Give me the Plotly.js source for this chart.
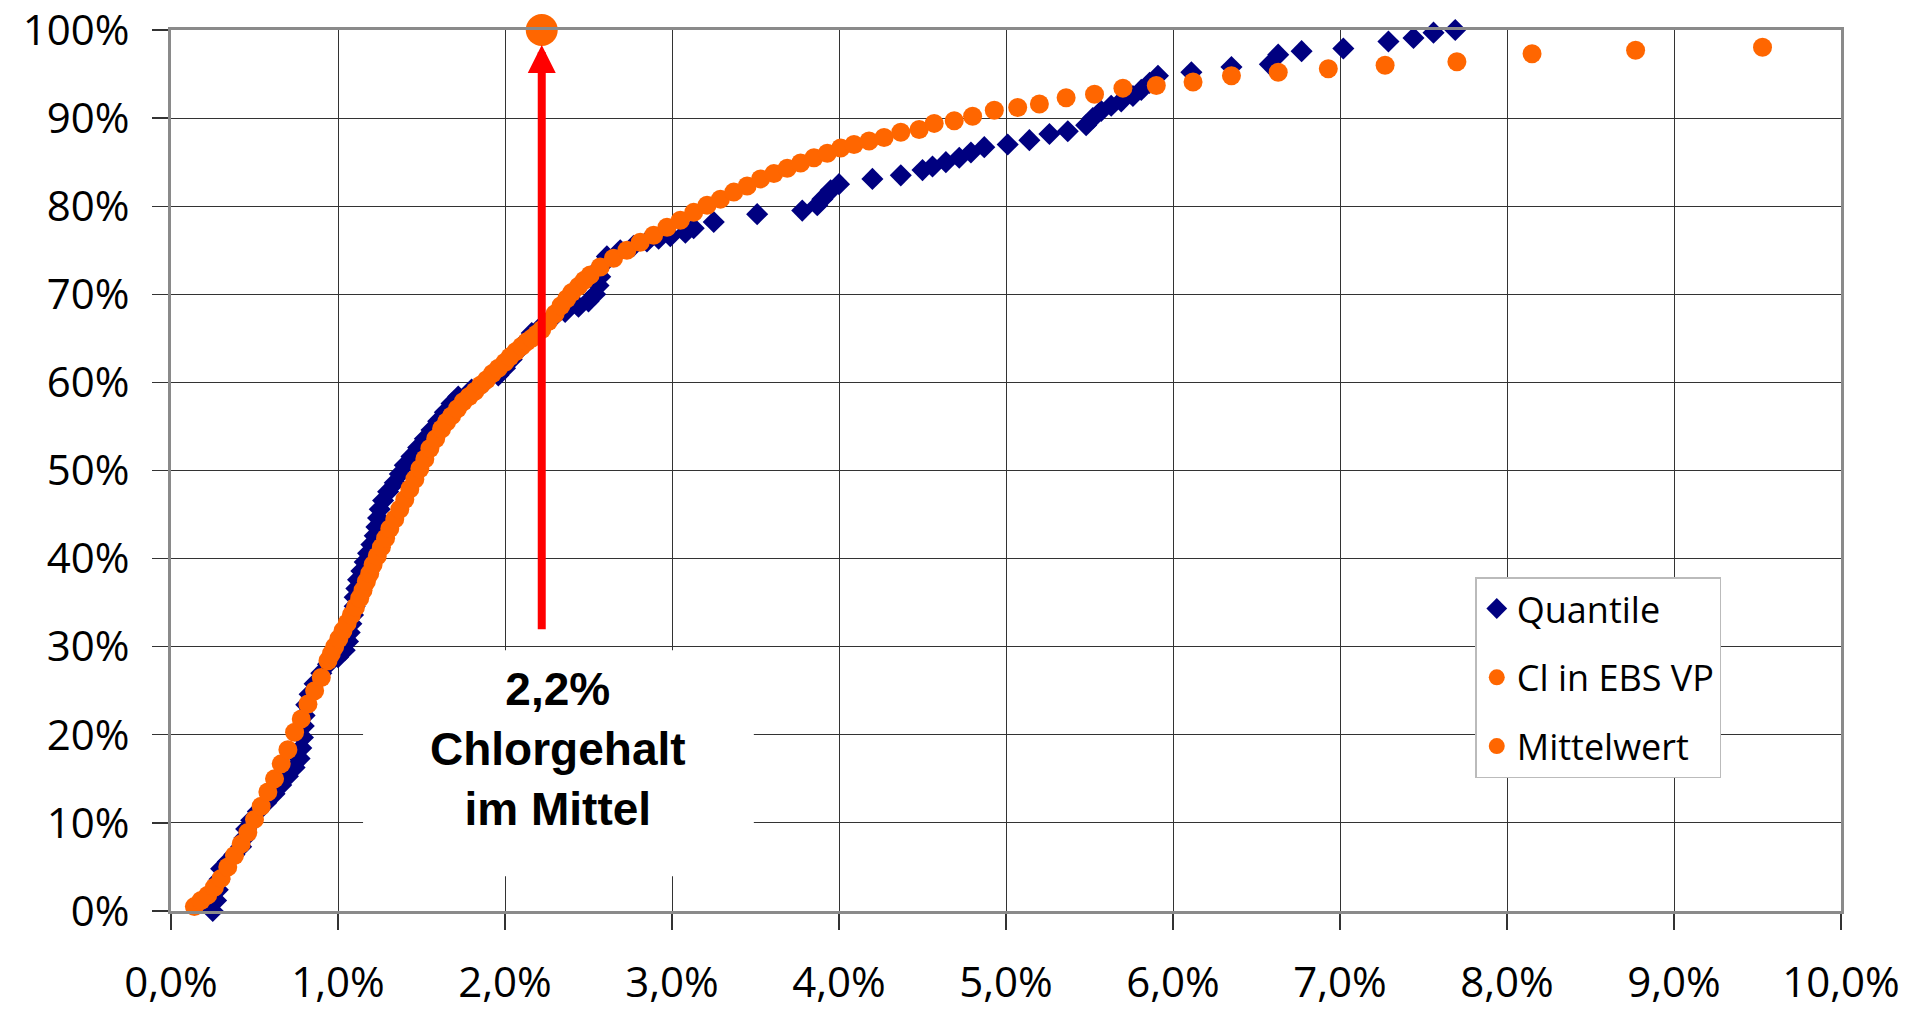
<!DOCTYPE html>
<html>
<head>
<meta charset="utf-8">
<script src="https://cdn.plot.ly/plotly-3.0.1.min.js"></script>
<style>html,body{margin:0;padding:0;background:#fff;}#chart{width:1909px;height:1016px;}</style>
</head>
<body>
<div id="chart"></div>
<script>
// ---- data (x = Chlorgehalt in %, y = cumulative share in %) ----
const quantileX = [0.25,0.27,0.28,0.29,0.30,0.34,0.38,0.42,0.44,0.45,0.48,0.52,0.57,0.62,0.66,0.70,0.74,0.77,0.78,0.79,0.795,0.80,0.81,0.83,0.86,0.90,0.94,1.00,1.04,1.06,1.07,1.08,1.09,1.10,1.10,1.11,1.12,1.14,1.16,1.18,1.20,1.22,1.23,1.24,1.25,1.27,1.30,1.34,1.37,1.40,1.44,1.48,1.52,1.56,1.60,1.64,1.68,1.72,1.80,1.88,1.96,2.00,2.04,2.08,2.12,2.16,2.22,2.28,2.36,2.44,2.50,2.54,2.56,2.57,2.57,2.61,2.69,2.77,2.85,2.92,2.99,3.08,3.13,3.25,3.51,3.78,3.87,3.90,3.95,4.00,4.20,4.37,4.50,4.56,4.64,4.72,4.79,4.87,5.01,5.14,5.26,5.37,5.48,5.52,5.57,5.63,5.69,5.76,5.81,5.86,5.91,6.11,6.35,6.58,6.63,6.77,7.02,7.29,7.44,7.56,7.69];
const quantileY = [0.0,1.2,2.4,3.6,4.8,5.6,6.4,7.3,8.3,9.3,10.3,11.3,12.3,13.3,14.3,15.3,16.3,17.3,18.5,19.7,21.0,22.2,23.4,24.6,25.8,27.0,28.0,28.8,29.6,30.6,31.6,32.6,33.6,34.6,35.6,36.6,37.6,38.6,39.6,40.6,41.6,42.6,43.6,44.6,45.6,46.6,47.6,48.6,49.6,50.6,51.6,52.6,53.6,54.6,55.6,56.6,57.6,58.4,59.2,60.0,60.8,61.6,62.6,63.6,64.6,65.6,66.4,67.2,68.0,68.6,69.2,70.0,71.0,72.0,73.1,74.3,75.0,75.5,76.0,76.3,76.6,77.0,77.5,78.2,79.1,79.5,80.1,80.8,81.8,82.5,83.1,83.5,84.1,84.5,85.0,85.5,86.1,86.7,87.0,87.5,88.2,88.5,89.2,90.0,90.8,91.4,91.9,92.5,93.2,94.0,94.8,95.2,95.8,96.1,97.2,97.6,97.9,98.7,99.1,99.7,100.0];

const clX = [0.14,0.18,0.22,0.26,0.30,0.34,0.38,0.42,0.46,0.50,0.54,0.58,0.62,0.66,0.70,0.74,0.78,0.82,0.86,0.90,0.94,0.96,0.98,1.005,1.03,1.055,1.08,1.105,1.13,1.15,1.17,1.19,1.21,1.235,1.26,1.285,1.31,1.34,1.37,1.40,1.43,1.46,1.49,1.52,1.55,1.585,1.62,1.65,1.68,1.715,1.75,1.785,1.82,1.855,1.89,1.925,1.96,2.00,2.03,2.065,2.10,2.13,2.16,2.19,2.22,2.26,2.30,2.335,2.37,2.40,2.44,2.475,2.51,2.57,2.65,2.73,2.81,2.89,2.97,3.05,3.13,3.21,3.29,3.37,3.45,3.53,3.61,3.69,3.77,3.85,3.93,4.01,4.09,4.18,4.27,4.37,4.48,4.57,4.69,4.80,4.93,5.07,5.20,5.36,5.53,5.70,5.90,6.12,6.35,6.63,6.93,7.27,7.70,8.15,8.77,9.53];
const clY = [0.5,1.2,1.8,2.7,3.7,5.0,6.3,7.6,8.9,10.4,11.9,13.5,15.0,16.7,18.3,20.3,21.8,23.5,25.0,26.5,28.4,29.2,30.0,30.9,31.8,32.7,33.6,34.5,35.5,36.4,37.4,38.3,39.3,40.3,41.3,42.3,43.4,44.5,45.6,46.7,47.9,49.0,50.2,51.3,52.5,53.6,54.7,55.5,56.2,57.0,57.8,58.4,59.0,59.7,60.3,61.0,61.6,62.3,62.9,63.5,64.1,64.6,65.0,65.5,66.0,66.9,67.8,68.7,69.5,70.2,70.9,71.6,72.2,73.1,74.1,75.0,75.9,76.7,77.6,78.4,79.3,80.1,80.8,81.6,82.3,83.1,83.7,84.3,84.9,85.5,86.0,86.6,87.0,87.4,87.8,88.4,88.7,89.4,89.7,90.2,90.9,91.2,91.6,92.3,92.7,93.4,93.7,94.1,94.8,95.2,95.6,96.0,96.4,97.3,97.7,98.05];

const meanX = [2.22];
const meanY = [100];

const xTickVals = [0,1,2,3,4,5,6,7,8,9,10];
const xTickText = ['0,0%','1,0%','2,0%','3,0%','4,0%','5,0%','6,0%','7,0%','8,0%','9,0%','10,0%'];
const yTickVals = [0,10,20,30,40,50,60,70,80,90,100];
const yTickText = ['0%','10%','20%','30%','40%','50%','60%','70%','80%','90%','100%'];

const seriesNames = ['Quantile','Cl in EBS VP','Mittelwert'];
const annotationText = '2,2%<br>Chlorgehalt<br>im Mittel';

// ---- chart ----
const NAVY = '#000080', ORANGE = '#FF6600';
const FONT = '"Open Sans", "Noto Sans", sans-serif';

const traces = [
  {x: quantileX, y: quantileY, name: seriesNames[0], type: 'scatter', mode: 'markers', legendgroup: 'a',
   cliponaxis: false, marker: {symbol: 'diamond', size: 17, color: NAVY}},
  {x: clX, y: clY, name: seriesNames[1], type: 'scatter', mode: 'markers', legendgroup: 'b',
   cliponaxis: false, marker: {symbol: 'circle', size: 19, color: ORANGE}},
  {x: meanX, y: meanY, name: seriesNames[2], type: 'scatter', mode: 'markers', legendgroup: 'c',
   cliponaxis: false, marker: {symbol: 'circle', size: 32, color: ORANGE}}
];

const axisCommon = {
  showgrid: true, gridcolor: '#333333', gridwidth: 1,
  showline: true, linecolor: '#8a8a8a', linewidth: 3, mirror: true,
  ticks: 'outside', ticklen: 16, tickwidth: 1.3, tickcolor: '#333',
  zeroline: false, fixedrange: true, ticklabeloverflow: 'allow',
  tickfont: {family: FONT, size: 42, color: '#000'}
};

const layout = {
  width: 1909, height: 1016,
  margin: {l: 171, r: 68, t: 30, b: 105},
  paper_bgcolor: '#fff', plot_bgcolor: '#fff',
  showlegend: true,
  legend: {x: 0.781, y: 0.379, xanchor: 'left', yanchor: 'top',
    bgcolor: '#fff', bordercolor: '#bbbbbb', borderwidth: 1.5,
    font: {family: FONT, size: 36, color: '#000'}, tracegroupgap: 19},
  xaxis: Object.assign({}, axisCommon, {range: [0, 10], tickmode: 'array', tickvals: xTickVals, ticktext: xTickText, ticklabelstandoff: 17}),
  yaxis: Object.assign({}, axisCommon, {range: [0, 100], tickmode: 'array', tickvals: yTickVals, ticktext: yTickText, ticklabelstandoff: 14}),
  shapes: [
    {type: 'rect', xref: 'x', yref: 'y', x0: 1.15, x1: 3.49, y0: 3.95, y1: 29.6,
     fillcolor: '#ffffff', line: {width: 0}, layer: 'above'}
  ],
  annotations: [
    {x: meanX[0], y: meanY[0], xref: 'x', yref: 'y', ax: meanX[0], ay: 31.8, axref: 'x', ayref: 'y',
     text: '', showarrow: true, arrowhead: 2, arrowsize: 0.7, arrowwidth: 8, arrowcolor: '#FF0000', standoff: 15},
    {x: 2.32, y: 18.4, xref: 'x', yref: 'y', xanchor: 'center', yanchor: 'middle', showarrow: false,
     text: annotationText, font: {family: '"Liberation Sans", Arial, sans-serif', size: 46, color: '#000', weight: 'bold'}}
  ]
};

Plotly.newPlot('chart', traces, layout, {displayModeBar: false, staticPlot: true});
</script>
</body>
</html>
